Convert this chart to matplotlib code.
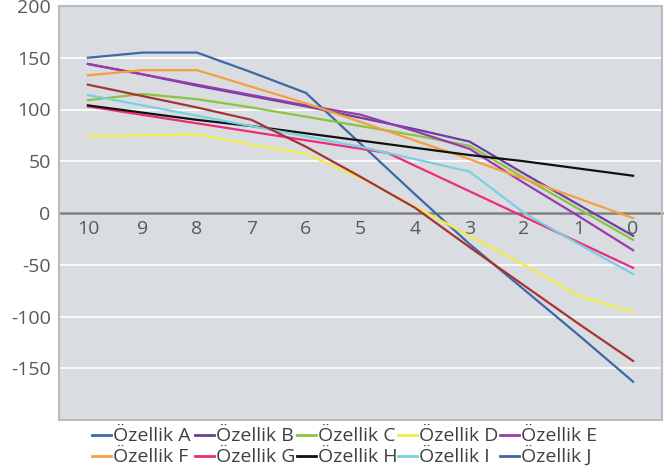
import matplotlib
matplotlib.use("Agg")
import matplotlib.pyplot as plt
from matplotlib.lines import Line2D
from matplotlib.patches import Rectangle

plt.rcParams['font.family'] = ['Open Sans', 'DejaVu Sans']

categories = [10, 9, 8, 7, 6, 5, 4, 3, 2, 1, 0]
series_names = ["Özellik A", "Özellik B", "Özellik C", "Özellik D", "Özellik E",
                "Özellik F", "Özellik G", "Özellik H", "Özellik I", "Özellik J"]

A = [150, 155, 155, 136, 116, 67, 18, -30, -74, -118, -163]
B = [144, 134, 123, 113, 103, 92, 81, 69, 38, 8, -22]
C = [109, 115, 110, 102, 93, 84, 75, 65, 34, 4, -26]
D = [74, 75, 76, 66, 57, 34, 6, -22, -50, -80, -96]
E = [144, 134, 124, 114, 104, 95, 79, 62, 29, -3, -36]
F = [133, 138, 138, 122, 106, 88, 70, 52, 33, 14, -5]
G_x = [10, 4.5, 0]
G = [103, 58, -53]
H = [104, 97, 90, 84, 77, 70, 63, 56, 50, 43, 36]
I = [114, 104, 94, 84, 74, 64, 52, 40, 0, -30, -59]
J = [124, 113, 102, 90, 64, 35, 5, -33, -70, -107, -143]

y_ticks = [-150, -100, -50, 0, 50, 100, 150, 200]

line_colors = ["#3d68a6", "#6a3f9e", "#8cc43f", "#f2ea48", "#9a3aae",
               "#f5a03e", "#ec2c7a", "#111111", "#7bcfe0", "#a53434"]
legend_colors = line_colors[:9] + ["#3d68a6"]

series_x = [categories] * 6 + [G_x] + [categories] * 3
series_y = [A, B, C, D, E, F, G, H, I, J]

W, Hpx = 671, 475
fig = plt.figure(figsize=(6.71, 4.75), dpi=100)
ax = fig.add_axes([59/W, 1 - 420/Hpx, (662-59)/W, (420-6)/Hpx])
ax.set_facecolor("#d9dde1")

for xs, ys, c in zip(series_x, series_y, line_colors):
    ax.plot(xs, ys, color=c, lw=1.6, zorder=3)

ax.set_xlim(10.53, -0.53)
ax.set_ylim(-200, 200)
ax.set_yticks(y_ticks)
ax.set_yticklabels([str(v) for v in y_ticks])
ax.set_xticks(categories)
ax.set_xticklabels([str(c) for c in categories])
ax.grid(axis='y', color='white', lw=1.2, zorder=1)
ax.set_axisbelow(True)

for s in ['top', 'right', 'left']:
    ax.spines[s].set_visible(False)
ax.spines['bottom'].set_position(('data', 0))
ax.spines['bottom'].set_color('#7f7f7f')
ax.spines['bottom'].set_linewidth(1.8)
ax.spines['bottom'].set_zorder(2)

ax.tick_params(axis='both', length=0, labelsize=14, labelcolor='#595959')
ax.tick_params(axis='y', pad=6)
ax.tick_params(axis='x', pad=5)

ax.add_patch(Rectangle((0, 0), 1, 1, transform=ax.transAxes, fill=False,
                       edgecolor='#b8bcc0', lw=1.5, zorder=4, clip_on=False))

# manual legend laid out in two rows of five
col_x = [92, 195, 297, 398, 500]
row_line_y = [435, 456]
row_text_y = [441, 462]
for i, (name, c) in enumerate(zip(series_names, legend_colors)):
    r, k = divmod(i, 5)
    x0 = col_x[k]
    fig.add_artist(Line2D([x0/W, (x0+19)/W], [1-row_line_y[r]/Hpx]*2,
                          color=c, lw=2, transform=fig.transFigure))
    fig.text((x0+21)/W, 1-row_text_y[r]/Hpx, name, fontsize=14,
             color='#404040', va='baseline', ha='left')

fig.savefig("out.png", dpi=100, facecolor='white')
